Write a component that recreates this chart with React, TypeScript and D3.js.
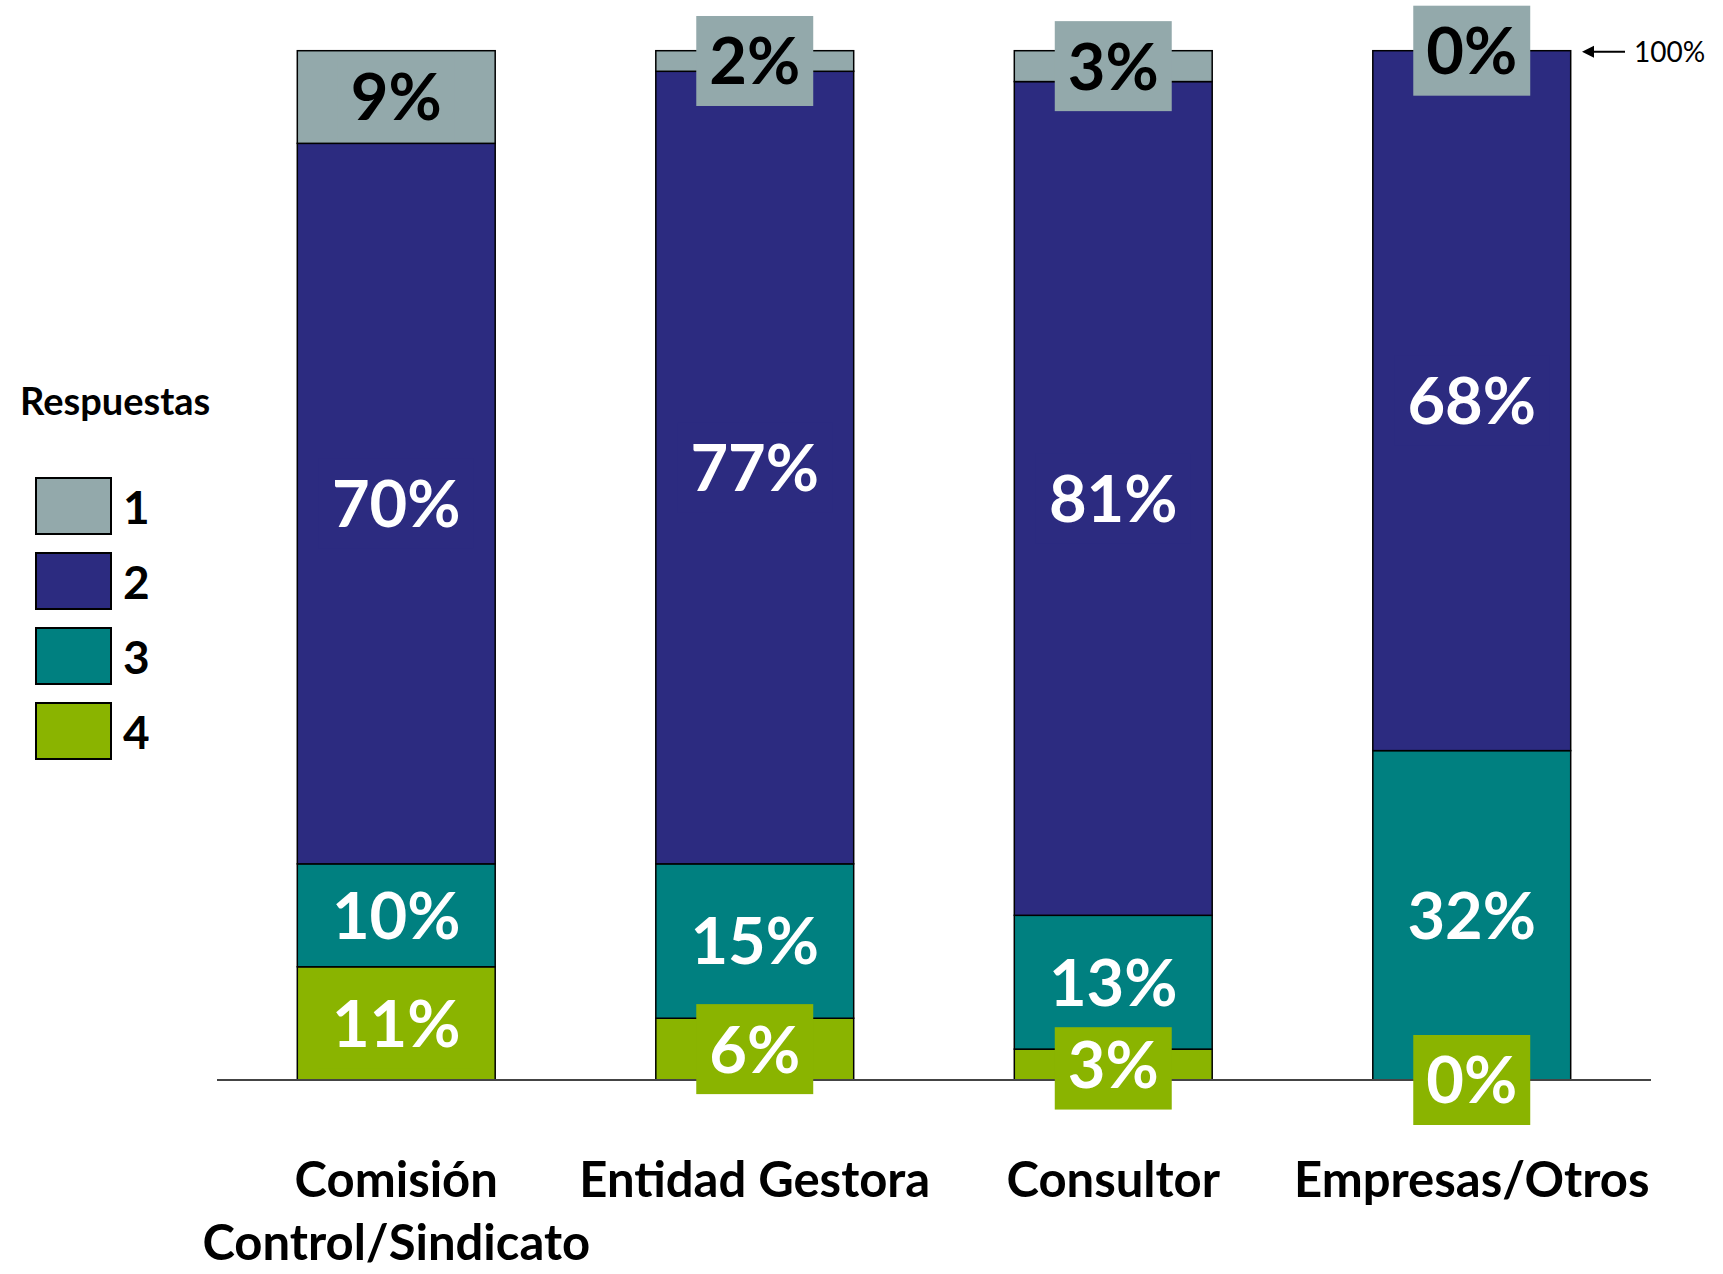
import { useEffect, useRef } from 'react';
import * as d3 from 'd3';

const categories = ['Comisión Control/Sindicato', 'Entidad Gestora', 'Consultor', 'Empresas/Otros'];
const categoryLines = [['Comisión', 'Control/Sindicato'], ['Entidad Gestora'], ['Consultor'], ['Empresas/Otros']];
const responses = ['1', '2', '3', '4'];
const resp1 = [9, 2, 3, 0];
const resp2 = [70, 77, 81, 68];
const resp3 = [10, 15, 13, 32];
const resp4 = [11, 6, 3, 0];
const colors: Record<string, string> = { '1': '#93a9ab', '2': '#2c2b80', '3': '#008080', '4': '#8ab400' };

const FONT = 'Lato, "Open Sans", sans-serif';

const App = () => {
  const svgRef = useRef<SVGSVGElement>(null);

  useEffect(() => {
    document.body.style.margin = '0';
    const svg = d3.select(svgRef.current);
    svg.selectAll('*').remove();

    const width = 1723;
    const height = 1274;

    const rows = categories.map((c, i) => ({
      cat: c,
      '1': resp1[i],
      '2': resp2[i],
      '3': resp3[i],
      '4': resp4[i],
    }));

    // apilado de abajo hacia arriba: 4, 3, 2, 1
    const stack = d3.stack<any>().keys(['4', '3', '2', '1']);
    const layers = stack(rows);

    const x = d3.scaleBand().domain(categories).range([217, 1651]).paddingInner(0.448).paddingOuter(0.224);
    const y = d3.scaleLinear().domain([0, 100]).range([1080, 50.7]);

    svg.attr('width', width).attr('height', height);

    // barras
    layers.forEach((layer) => {
      svg
        .append('g')
        .selectAll('rect')
        .data(layer)
        .enter()
        .append('rect')
        .attr('x', (d: any) => x(d.data.cat)!)
        .attr('y', (d) => y(d[1]))
        .attr('width', x.bandwidth())
        .attr('height', (d) => y(d[0]) - y(d[1]))
        .attr('fill', colors[layer.key])
        .attr('stroke', '#000')
        .attr('stroke-width', 1.5);
    });

    // eje
    svg
      .append('line')
      .attr('x1', x.range()[0])
      .attr('x2', x.range()[1])
      .attr('y1', y(0))
      .attr('y2', y(0))
      .attr('stroke', '#444')
      .attr('stroke-width', 2);

    // etiquetas con caja
    layers.forEach((layer) => {
      const g = svg.append('g');
      layer.forEach((d: any) => {
        const cx = x(d.data.cat)! + x.bandwidth() / 2;
        const cy = (y(d[0]) + y(d[1])) / 2;
        const lg = g.append('g');
        const box = lg.append('rect').attr('fill', colors[layer.key]);
        const t = lg
          .append('text')
          .attr('x', cx)
          .attr('y', cy)
          .attr('dy', '0.36em')
          .attr('text-anchor', 'middle')
          .style('font-family', FONT)
          .style('font-weight', 700)
          .style('font-size', '65px')
          .attr('fill', layer.key === '1' ? '#000' : '#fff')
          .text(`${d.data[layer.key]}%`);
        const bb = (t.node() as SVGTextElement).getBBox();
        const bw = bb.width + 26;
        const bh = 90;
        box
          .attr('x', cx - bw / 2)
          .attr('y', cy - bh / 2)
          .attr('width', bw)
          .attr('height', bh);
      });
    });

    // categorías
    categories.forEach((c, i) => {
      const cx = x(c)! + x.bandwidth() / 2;
      categoryLines[i].forEach((line, j) => {
        svg
          .append('text')
          .attr('x', cx)
          .attr('y', 1197 + j * 63)
          .attr('text-anchor', 'middle')
          .style('font-family', FONT)
          .style('font-weight', 700)
          .style('font-size', '49px')
          .attr('fill', '#000')
          .text(line);
      });
    });

    // leyenda
    svg
      .append('text')
      .attr('x', 20)
      .attr('y', 415)
      .style('font-family', FONT)
      .style('font-weight', 700)
      .style('font-size', '38px')
      .text('Respuestas');

    const legend = svg
      .selectAll('g.legend')
      .data(responses)
      .enter()
      .append('g')
      .attr('class', 'legend')
      .attr('transform', (_, i) => `translate(36,${478 + i * 75})`);
    legend
      .append('rect')
      .attr('width', 75)
      .attr('height', 56)
      .attr('fill', (d) => colors[d])
      .attr('stroke', '#000')
      .attr('stroke-width', 2);
    legend
      .append('text')
      .attr('x', 87)
      .attr('y', 46)
      .style('font-family', FONT)
      .style('font-weight', 700)
      .style('font-size', '46px')
      .text((d) => d);

    // marca 100%
    const ay = y(100) + 1;
    svg
      .append('line')
      .attr('x1', 1590)
      .attr('x2', 1625)
      .attr('y1', ay)
      .attr('y2', ay)
      .attr('stroke', '#000')
      .attr('stroke-width', 2);
    svg
      .append('path')
      .attr('d', `M1582,${ay} L1594,${ay - 6} L1594,${ay + 6} Z`)
      .attr('fill', '#000');
    svg
      .append('text')
      .attr('x', 1634)
      .attr('y', ay)
      .attr('dy', '0.36em')
      .style('font-family', FONT)
      .style('font-size', '28px')
      .text('100%');
  }, []);

  return <svg ref={svgRef} style={{ display: 'block' }}></svg>;
};

export default App;
